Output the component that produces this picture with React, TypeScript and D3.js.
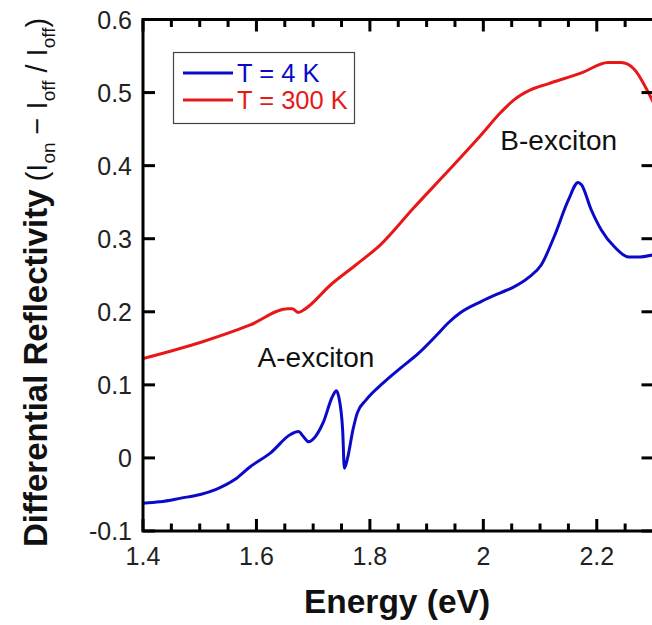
import React from "react";
import * as d3 from "d3";

const energy4K = [1.400, 1.430, 1.467, 1.501, 1.529, 1.561, 1.589, 1.625, 1.660, 1.674, 1.683, 1.692, 1.699, 1.718, 1.734, 1.741, 1.745, 1.752, 1.755, 1.761, 1.770, 1.778, 1.793, 1.824, 1.854, 1.884, 1.920, 1.937, 1.960, 1.996, 2.030, 2.054, 2.080, 2.102, 2.125, 2.150, 2.167, 2.173, 2.190, 2.208, 2.231, 2.256, 2.273, 2.300];
const refl4K = [-0.062, -0.060, -0.055, -0.050, -0.043, -0.030, -0.012, 0.007, 0.032, 0.036, 0.029, 0.022, 0.025, 0.049, 0.084, 0.092, 0.084, 0.038, -0.014, 0.001, 0.038, 0.062, 0.079, 0.103, 0.123, 0.142, 0.170, 0.184, 0.199, 0.214, 0.226, 0.234, 0.247, 0.264, 0.303, 0.353, 0.377, 0.374, 0.340, 0.312, 0.289, 0.275, 0.275, 0.278];

const energy300K = [1.400, 1.501, 1.589, 1.655, 1.663, 1.674, 1.686, 1.731, 1.775, 1.819, 1.877, 1.937, 1.996, 2.031, 2.054, 2.084, 2.114, 2.173, 2.220, 2.243, 2.266, 2.291, 2.300];
const refl300K = [0.136, 0.158, 0.182, 0.204, 0.204, 0.199, 0.204, 0.237, 0.264, 0.292, 0.342, 0.392, 0.442, 0.473, 0.490, 0.504, 0.512, 0.527, 0.541, 0.541, 0.532, 0.500, 0.486];

const xTicks = [1.4, 1.6, 1.8, 2.0, 2.2];
const xTickLabels = ["1.4", "1.6", "1.8", "2", "2.2"];
const xMinor = [1.45, 1.5, 1.55, 1.65, 1.7, 1.75, 1.85, 1.9, 1.95, 2.05, 2.1, 2.15, 2.25];
const yTicks = [-0.1, 0, 0.1, 0.2, 0.3, 0.4, 0.5, 0.6];
const yTickLabels = ["-0.1", "0", "0.1", "0.2", "0.3", "0.4", "0.5", "0.6"];

const seriesNames = ["T = 4 K", "T = 300 K"];
const seriesColors = ["#0a0ac8", "#e81818"];

const annotations = [
  { text: "A-exciton", e: 1.602, v: 0.1245 },
  { text: "B-exciton", e: 2.03, v: 0.421 },
];

export default function App() {
  const W = 652, H = 625;
  const left = 143, right = 653.5, top = 19.5, bottom = 531;
  const x = d3.scaleLinear().domain([1.4, 2.3]).range([left, right]);
  const y = d3.scaleLinear().domain([-0.1, 0.6]).range([bottom, top]);
  const line = d3.line<number>().x((d) => d[0]).y((d) => d[1]).curve(d3.curveMonotoneX);
  const pts4 = energy4K.map((e, i) => [x(e), y(refl4K[i])] as any);
  const pts300 = energy300K.map((e, i) => [x(e), y(refl300K[i])] as any);
  const font = "'Liberation Sans', Arial, Helvetica, sans-serif";
  const major = 12, minor = 7.5;
  const tickLines: { x1: number; y1: number; x2: number; y2: number }[] = [];
  xTicks.forEach((t) => {
    tickLines.push({ x1: x(t), x2: x(t), y1: bottom, y2: bottom - major });
    tickLines.push({ x1: x(t), x2: x(t), y1: top, y2: top + major });
  });
  xMinor.forEach((t) => {
    tickLines.push({ x1: x(t), x2: x(t), y1: bottom, y2: bottom - minor });
    tickLines.push({ x1: x(t), x2: x(t), y1: top, y2: top + minor });
  });
  yTicks.forEach((t) => {
    tickLines.push({ x1: left, x2: left + major, y1: y(t), y2: y(t) });
    tickLines.push({ x1: right, x2: right - major, y1: y(t), y2: y(t) });
  });
  return (
    <svg width={W} height={H} style={{ position: "absolute", left: 0, top: 0, background: "#fff" }} fontFamily={font}>
      <defs>
        <clipPath id="plot">
          <rect x={left} y={top} width={right - left} height={bottom - top} />
        </clipPath>
      </defs>
      <g clipPath="url(#plot)" fill="none" strokeWidth={3} strokeLinejoin="round">
        <path d={line(pts300) || ""} stroke={seriesColors[1]} />
        <path d={line(pts4) || ""} stroke={seriesColors[0]} />
      </g>
      <rect x={left} y={top} width={right - left} height={bottom - top} fill="none" stroke="#000" strokeWidth={3} />
      {tickLines.map((l, i) => (
        <path key={"tk" + i} d={`M${l.x1},${l.y1}L${l.x2},${l.y2}`} stroke="#000" strokeWidth={3} fill="none" />
      ))}
      {/* tick labels */}
      <g fontSize={25} fill="#222">
        {xTicks.map((t, i) => (
          <text key={"xl" + t} x={x(t)} y={bottom + 34} textAnchor="middle">{xTickLabels[i]}</text>
        ))}
        {yTicks.map((t, i) => (
          <text key={"yl" + t} x={left - 11} y={y(t)} textAnchor="end" dominantBaseline="central">{yTickLabels[i]}</text>
        ))}
      </g>
      {/* axis titles */}
      <text x={397} y={613} textAnchor="middle" fontSize={33.5} fontWeight="bold" fill="#111">Energy (eV)</text>
      <text transform="translate(47,547) rotate(-90)" fontSize={33} fill="#111">
        <tspan fontWeight="bold">Differential Reflectivity</tspan>
        <tspan fontSize={29}> (I</tspan>
        <tspan fontSize={19} dy={8}>on</tspan>
        <tspan fontSize={29} dy={-8}> − I</tspan>
        <tspan fontSize={19} dy={8}>off</tspan>
        <tspan fontSize={29} dy={-8}> / I</tspan>
        <tspan fontSize={19} dy={8}>off</tspan>
        <tspan fontSize={29} dy={-8}>)</tspan>
      </text>
      {/* legend */}
      <rect x={173.5} y={52.5} width={181} height={71} fill="#fff" stroke="#444" strokeWidth={1.2} />
      {seriesNames.map((n, i) => (
        <g key={n}>
          <line x1={183} x2={233} y1={73 + i * 27} y2={73 + i * 27} stroke={seriesColors[i]} strokeWidth={3} />
          <text x={237} y={73 + i * 27} dominantBaseline="central" fontSize={25.5} fill={seriesColors[i]}>{n}</text>
        </g>
      ))}
      {/* annotations */}
      {annotations.map((a) => (
        <text key={a.text} x={x(a.e)} y={y(a.v)} fontSize={28} fill="#111">{a.text}</text>
      ))}
    </svg>
  );
}
